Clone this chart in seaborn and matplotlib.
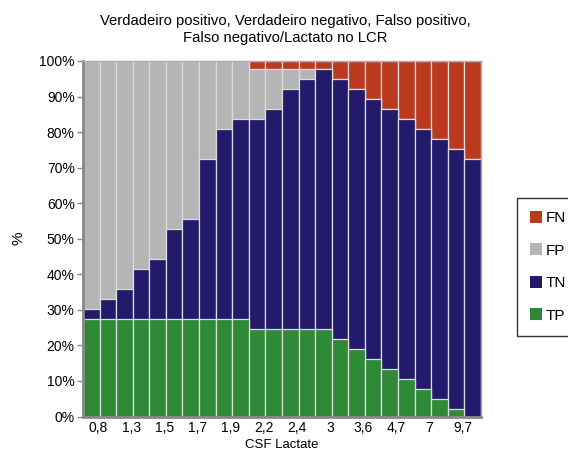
import numpy as np
import pandas as pd
import seaborn as sns
import matplotlib
matplotlib.use("Agg")
import matplotlib.pyplot as plt
from matplotlib.patches import Patch

# percentages per bar (24 cut-offs of CSF lactate)
tp = [27.3, 27.3, 27.3, 27.3, 27.3, 27.3, 27.3, 27.3, 27.3, 27.3,
      24.5, 24.5, 24.5, 24.5, 24.5, 21.7, 18.9, 16.1, 13.3, 10.5,
      7.7, 4.9, 2.1, 0.0]
tn = [2.9, 5.7, 8.6, 14.1, 16.9, 25.4, 28.2, 45.1, 53.5, 56.3,
      59.1, 61.9, 67.5, 70.4, 73.2, 73.2, 73.1, 73.1, 73.1, 73.1,
      73.1, 73.1, 73.1, 72.4]
fp = [69.8, 67.0, 64.1, 58.6, 55.8, 47.3, 44.5, 27.6, 19.2, 16.4,
      14.1, 11.3, 5.7, 2.8, 0.0, 0.0, 0.0, 0.0, 0.0, 0.0,
      0.0, 0.0, 0.0, 0.0]
fn = [0.0, 0.0, 0.0, 0.0, 0.0, 0.0, 0.0, 0.0, 0.0, 0.0,
      2.3, 2.3, 2.3, 2.3, 2.3, 5.1, 8.0, 10.8, 13.6, 16.4,
      19.2, 22.0, 24.8, 27.6]
tick_labels = ["0,8", "1,3", "1,5", "1,7", "1,9", "2,2", "2,4", "3",
               "3,6", "4,7", "7", "9,7"]

colors = {"FN": "#bb3a1f", "FP": "#b5b5b5", "TN": "#231a6b", "TP": "#2f8a37"}

df = pd.DataFrame({"bar": np.arange(len(tp)), "TP": tp, "TN": tn, "FP": fp, "FN": fn})
df["c_TP"] = df["TP"]
df["c_TN"] = df["c_TP"] + df["TN"]
df["c_FP"] = df["c_TN"] + df["FP"]
df["c_FN"] = df["c_FP"] + df["FN"]

plt.rcParams["font.family"] = ["Liberation Sans", "DejaVu Sans"]
fig = plt.figure(figsize=(5.68, 4.49), dpi=100)
ax = fig.add_axes([83 / 568, 1 - 416.5 / 449, 398 / 568, 355.5 / 449])

# draw cumulative totals from the top segment down so they stack
for key in ["FN", "FP", "TN", "TP"]:
    sns.barplot(data=df, x="bar", y="c_" + key, color=colors[key], width=1.0,
                saturation=1, edgecolor="#dcdcdc", linewidth=0.9, ax=ax)

ax.set_ylim(0, 100)
ax.set_xlim(-0.5, len(tp) - 0.5)
ax.set_yticks(np.arange(0, 101, 10))
ax.set_yticklabels([f"{v}%" for v in range(0, 101, 10)], fontsize=10)
ax.set_xticks(np.arange(0.5, len(tp), 2)[:len(tick_labels)] - 0.1)
ax.set_xticklabels(tick_labels, fontsize=10)
ax.tick_params(axis="x", length=0, pad=3)
ax.tick_params(axis="y", length=4, width=1, color="#888888", pad=2)

for side in ["left", "bottom"]:
    ax.spines[side].set_color("#888888")
    ax.spines[side].set_linewidth(2)
for side in ["top", "right"]:
    ax.spines[side].set_color("#aaaaaa")
    ax.spines[side].set_linewidth(1)

ax.set_xlabel("CSF Lactate", fontsize=9.5)
ax.xaxis.set_label_coords(0.5, -0.062)
ax.set_ylabel("%", fontsize=11)
ax.yaxis.set_label_coords(-0.145, 0.5)
fig.text(285 / 568, 1 - 14 / 449,
         "Verdadeiro positivo, Verdadeiro negativo, Falso positivo,\n"
         "Falso negativo/Lactato no LCR", fontsize=10.7, ha="center", va="top",
         linespacing=1.3)

handles = [Patch(facecolor=colors[k], edgecolor="none", label=k) for k in ["FN", "FP", "TN", "TP"]]
leg = fig.legend(handles=handles, loc="upper left", bbox_to_anchor=(517 / 568, 1 - 198 / 449),
                 frameon=True, fancybox=False, edgecolor="black", fontsize=11,
                 handlelength=0.8, handleheight=0.8, handletextpad=0.2,
                 labelspacing=1.2, borderpad=0.85, borderaxespad=0)
leg.get_frame().set_linewidth(1)

fig.savefig("out.png", dpi=100)
